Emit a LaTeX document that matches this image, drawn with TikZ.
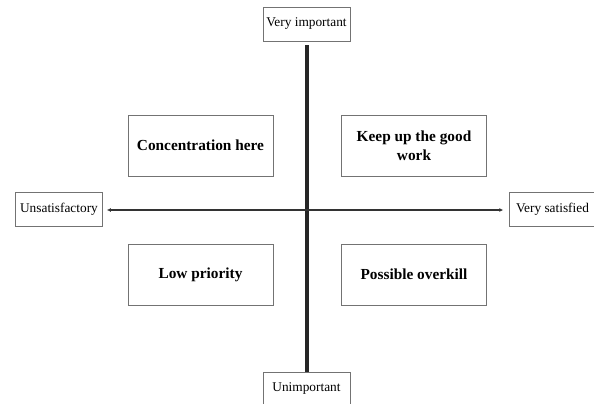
\documentclass[tikz,border=0pt]{standalone}
\usepackage{fontspec}
\setmainfont{Liberation Serif}
\usepackage{xcolor}
\usetikzlibrary{arrows.meta, positioning}

\begin{document}
\begin{tikzpicture}[
    x=0.75pt, y=-0.75pt,
    endbox/.style={draw=black!55, line width=0.6pt, minimum width=65.25pt, minimum height=25.5pt,
        font=\fontsize{10}{11}\selectfont, align=center, inner sep=2pt},
    quadbox/.style={draw=black!55, line width=0.6pt, minimum width=108.75pt, minimum height=45.75pt,
        font=\fontsize{11.5}{14}\selectfont\bfseries, align=center},
    >=Latex
]
\useasboundingbox (0,0) rectangle (594,404);

% --- axis end labels ---
\node[endbox] (vimp) at (306.5,24) {Very important};
\node[endbox] (unimp) at (306.5,389) {Unimportant};
\node[endbox] (unsat) at (59,209) {Unsatisfactory};
\node[endbox] (vsat) at (552.5,209) {Very satisfied};

% --- quadrants ---
\node[quadbox] (conc) at (200.5,145.5) {Concentration here};
\node[quadbox] (keep) at (414,145.5) {Keep up the good\\work};
\node[quadbox] (low) at (200.5,274.5) {Low priority};
\node[quadbox] (over) at (414,274.5) {Possible overkill};

% --- axes ---
\coordinate (mid) at (307,210);
\draw[line width=3pt, black!85] ([yshift=-3pt]vimp.south) -- (unimp.north);
\draw[line width=0.9pt, black!80, -{Latex[length=3pt,width=3pt]}, shorten >=3pt] (mid) -- (mid -| unsat.east);
\draw[line width=0.9pt, black!80, -{Latex[length=3pt,width=3pt]}, shorten >=4pt] (mid) -- (mid -| vsat.west);

\end{tikzpicture}
\end{document}
